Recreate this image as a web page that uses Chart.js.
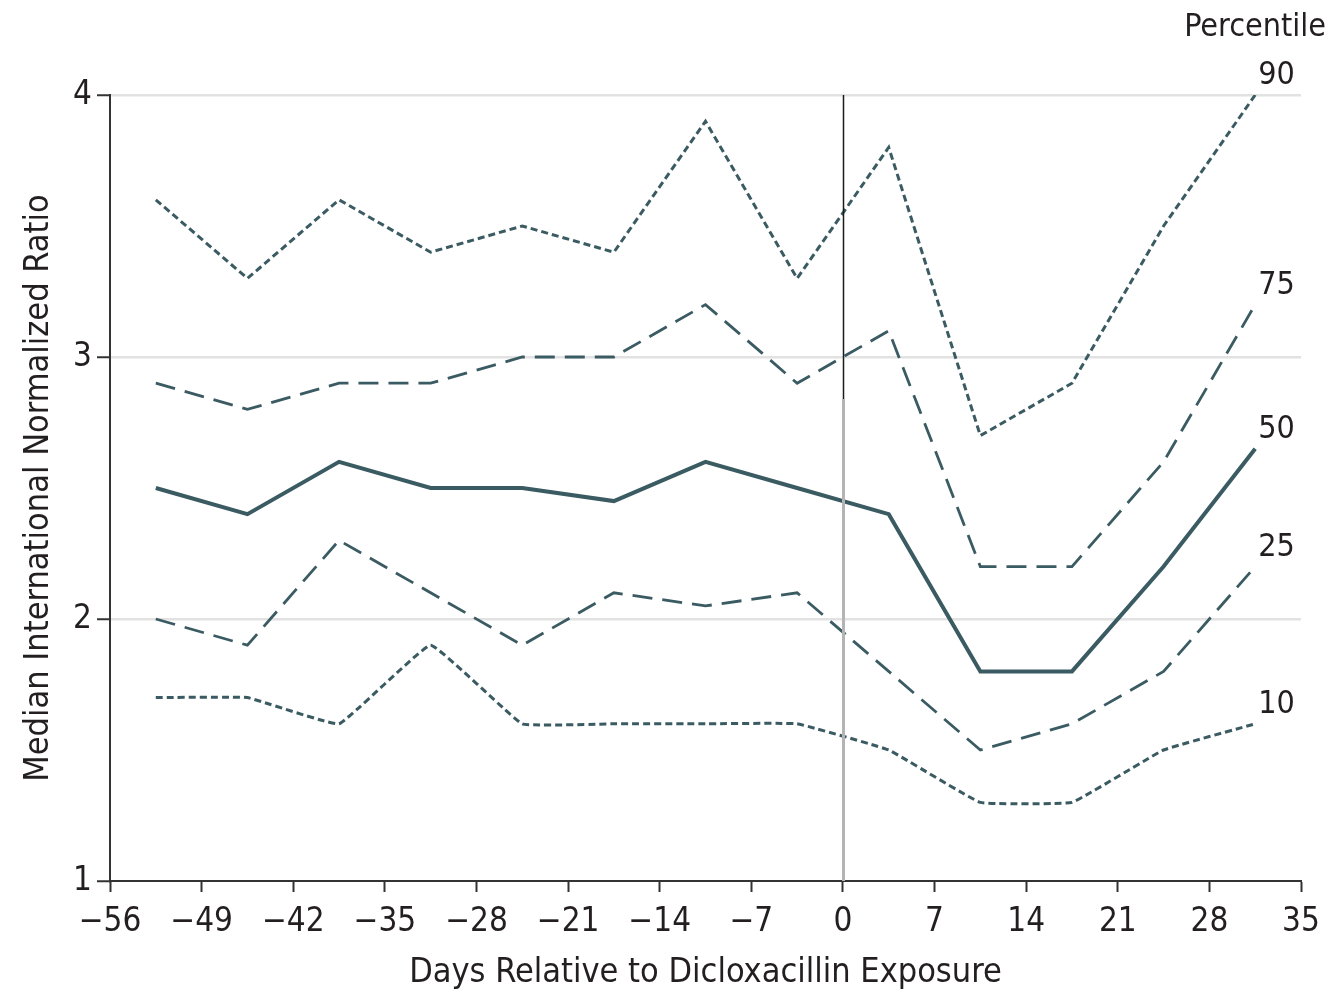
<!DOCTYPE html>
<html>
<head>
<meta charset="utf-8">
<script src="https://cdn.jsdelivr.net/npm/chart.js@4.4.1/dist/chart.umd.min.js"></script>
<style>
  html, body { margin: 0; padding: 0; background: #fff; }
  canvas { display: block; }
</style>
</head>
<body>
<canvas id="c" width="1333" height="994"></canvas>
<script>
// Weekly bins, days relative to dicloxacillin exposure (bin midpoints)
const days = [-52.5, -45.5, -38.5, -31.5, -24.5, -17.5, -10.5, -3.5, 3.5, 10.5, 17.5, 24.5, 31.5];

// INR percentiles per bin
const p90 = [3.6, 3.3, 3.6, 3.4, 3.5, 3.4, 3.9, 3.3, 3.8, 2.7, 2.9, 3.5, 4.0];
const p75 = [2.9, 2.8, 2.9, 2.9, 3.0, 3.0, 3.2, 2.9, 3.1, 2.2, 2.2, 2.6, 3.2];
const p50 = [2.5, 2.4, 2.6, 2.5, 2.5, 2.45, 2.6, 2.5, 2.4, 1.8, 1.8, 2.2, 2.65];
const p25 = [2.0, 1.9, 2.3, 2.1, 1.9, 2.1, 2.05, 2.1, 1.8, 1.5, 1.6, 1.8, 2.2];
const p10 = [1.7, 1.7, 1.6, 1.9, 1.6, 1.6, 1.6, 1.6, 1.5, 1.3, 1.3, 1.5, 1.6];

const percentileLabels = ['90', '75', '50', '25', '10'];
const xRange = { min: -56, max: 35, step: 7 };
const yRange = { min: 1, max: 4, step: 1 };

const FONT = '"Liberation Sans Narrow", "DejaVu Sans Condensed", "Open Sans", sans-serif';
const LINE = '#3b5b62';
const TEXT = '#231f20';

const toPoints = vals => days.map((d, i) => ({ x: d, y: vals[i] }));

const series = [
  { label: percentileLabels[0], values: p90, dash: [7, 4], width: 3, tension: 0 },
  { label: percentileLabels[1], values: p75, dash: [20, 10], width: 2.8, tension: 0 },
  { label: percentileLabels[2], values: p50, dash: [], width: 4, tension: 0 },
  { label: percentileLabels[3], values: p25, dash: [20, 10], width: 2.8, tension: 0 },
  { label: percentileLabels[4], values: p10, dash: [7, 4], width: 3, tension: 0.08 }
];

// Reference line at day 0: dark upper part, grey lower part
const exposureLine = {
  id: 'exposureLine',
  afterDatasetsDraw(chart) {
    const { ctx, chartArea, scales: { x, y } } = chart;
    const px = Math.round(x.getPixelForValue(0)) + 0.5;
    const split = y.getPixelForValue(2.84);
    ctx.save();
    ctx.lineCap = 'butt';
    ctx.strokeStyle = '#b4b4b4';
    ctx.lineWidth = 3;
    ctx.beginPath();
    ctx.moveTo(px, split);
    ctx.lineTo(px, chartArea.bottom);
    ctx.stroke();
    ctx.strokeStyle = '#1a1a1a';
    ctx.lineWidth = 1.5;
    ctx.beginPath();
    ctx.moveTo(px, chartArea.top);
    ctx.lineTo(px, split);
    ctx.stroke();
    ctx.restore();
  }
};

// Percentile names at the end of each line, plus the heading
const endLabels = {
  id: 'endLabels',
  afterDraw(chart) {
    const { ctx } = chart;
    ctx.save();
    ctx.fillStyle = TEXT;
    ctx.font = '32px ' + FONT;
    ctx.textAlign = 'left';
    ctx.textBaseline = 'bottom';
    chart.data.datasets.forEach((ds, i) => {
      const meta = chart.getDatasetMeta(i);
      const last = meta.data[meta.data.length - 1];
      ctx.fillText(ds.label, last.x + 3, last.y - 3);
    });
    ctx.textAlign = 'right';
    ctx.textBaseline = 'middle';
    ctx.fillText('Percentile', chart.width - 7, 28);
    ctx.restore();
  }
};

new Chart(document.getElementById('c'), {
  type: 'line',
  data: {
    datasets: series.map(s => ({
      label: s.label,
      data: toPoints(s.values),
      borderColor: LINE,
      backgroundColor: LINE,
      borderWidth: s.width,
      borderDash: s.dash,
      borderCapStyle: 'butt',
      borderJoinStyle: 'miter',
      tension: s.tension,
      pointRadius: 0,
      fill: false
    }))
  },
  options: {
    responsive: false,
    devicePixelRatio: 1,
    animation: false,
    layout: { padding: { top: 95, right: 32, left: 0, bottom: 0 } },
    plugins: {
      legend: { display: false },
      tooltip: { enabled: false }
    },
    scales: {
      x: {
        type: 'linear',
        min: xRange.min,
        max: xRange.max,
        afterFit(scale) { scale.height = 113; },
        ticks: {
          stepSize: xRange.step,
          autoSkip: false,
          maxRotation: 0,
          padding: 11,
          color: TEXT,
          font: { family: FONT, size: 33 },
          callback: v => (v < 0 ? '\u2212' + Math.abs(v) : String(v))
        },
        grid: {
          drawOnChartArea: false,
          drawTicks: true,
          tickLength: 11,
          tickColor: '#333',
          tickWidth: 2,
          color: 'rgba(0,0,0,0)'
        },
        border: { display: true, color: '#333', width: 2 },
        title: {
          display: true,
          text: 'Days Relative to Dicloxacillin Exposure',
          color: TEXT,
          font: { family: FONT, size: 34 },
          padding: { top: 0, bottom: 0 }
        }
      },
      y: {
        type: 'linear',
        min: yRange.min,
        max: yRange.max,
        afterFit(scale) { scale.width = 110; },
        ticks: {
          stepSize: yRange.step,
          padding: 5,
          color: TEXT,
          font: { family: FONT, size: 33 }
        },
        grid: {
          drawOnChartArea: true,
          drawTicks: true,
          tickLength: 13,
          tickColor: '#333',
          tickWidth: 2,
          lineWidth: 2.5,
          color: c => (c.tick && c.tick.value === yRange.min ? 'rgba(0,0,0,0)' : '#e2e2e2')
        },
        border: { display: true, color: '#333', width: 2 },
        title: {
          display: true,
          text: 'Median International Normalized Ratio',
          color: TEXT,
          font: { family: FONT, size: 34 },
          padding: { top: 19, bottom: 0 }
        }
      }
    }
  },
  plugins: [exposureLine, endLabels]
});
</script>
</body>
</html>
